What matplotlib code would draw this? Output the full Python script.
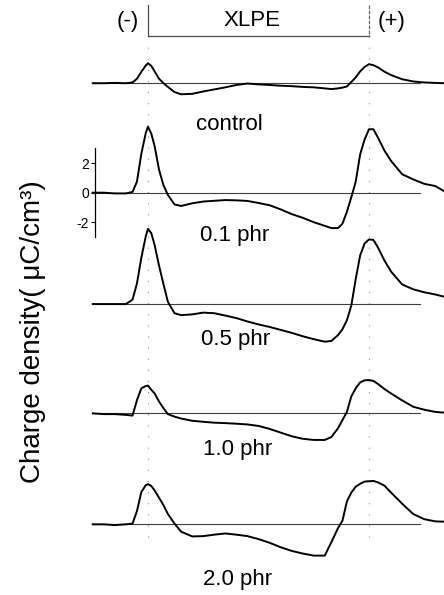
import matplotlib
matplotlib.use("Agg")
import matplotlib.pyplot as plt

plt.rcParams['font.family'] = ['Liberation Sans', 'DejaVu Sans']

# depth position, % of XLPE thickness (0 = cathode (-), 100 = anode (+))
position = [-25, -20, -15, -10, -7, -5, -3, -1, 0, 1.5, 3, 5, 7, 9, 12, 15, 20, 25,
            30, 35, 40, 45, 50, 55, 60, 65, 70, 75, 80, 83, 86, 88, 90, 92, 94, 96,
            98, 100, 102, 104, 107, 110, 115, 120, 125, 130, 134]

# charge density (uC/cm3)
control = [0, 0, 0.02, 0, 0.05, 0.3, 0.78, 1.2, 1.36, 1.17, 0.8, 0.3, 0.0, -0.25,
           -0.6, -0.75, -0.72, -0.56, -0.42, -0.28, -0.12, -0.02, -0.08, -0.12, -0.17,
           -0.2, -0.25, -0.28, -0.35, -0.4, -0.35, -0.3, -0.22, 0.08, 0.4, 0.8, 1.1,
           1.29, 1.22, 1.08, 0.78, 0.55, 0.27, 0.12, 0.05, 0.02, 0]
phr_01 = [0, 0, -0.05, -0.05, 0.05, 0.75, 2.65, 4.05, 4.47, 4.0, 3.15, 1.55, 0.5, -0.15,
          -0.8, -0.9, -0.72, -0.6, -0.55, -0.5, -0.52, -0.56, -0.7, -0.85, -1.13,
          -1.45, -1.7, -2.0, -2.25, -2.4, -2.4, -2.1, -1.3, -0.3, 0.75, 2.6, 3.6,
          4.3, 4.3, 3.75, 2.85, 2.15, 1.25, 0.9, 0.6, 0.45, 0.1]
phr_05 = [0, 0, 0, 0, 0.3, 1.4, 3.15, 4.6, 5.1, 4.8, 4.0, 2.6, 1.35, 0.15, -0.62,
          -0.75, -0.7, -0.58, -0.62, -0.78, -0.95, -1.18, -1.38, -1.55, -1.75, -1.95,
          -2.18, -2.38, -2.55, -2.5, -2.1, -1.7, -1.1, -0.1, 1.7, 3.3, 4.1, 4.38,
          4.35, 3.85, 2.95, 2.2, 1.33, 1.0, 0.8, 0.65, 0.5]
phr_10 = [0, -0.05, -0.05, -0.1, -0.15, 0.9, 1.7, 1.85, 1.88, 1.6, 1.35, 0.8, 0.35,
          -0.05, -0.22, -0.35, -0.5, -0.57, -0.63, -0.66, -0.7, -0.75, -0.85, -1.05,
          -1.3, -1.55, -1.72, -1.8, -1.8, -1.6, -1.0, -0.45, 0.1, 1.15, 1.7, 2.1,
          2.24, 2.26, 2.2, 2.0, 1.65, 1.35, 0.88, 0.45, 0.25, 0.1, 0.05]
phr_20 = [0, 0, -0.05, 0, 0.05, 0.9, 2.2, 2.65, 2.72, 2.6, 2.3, 1.8, 1.3, 0.7, 0.05,
          -0.5, -0.82, -0.8, -0.7, -0.62, -0.7, -0.8, -1.0, -1.25, -1.55, -1.8, -1.98,
          -2.12, -2.12, -1.2, -0.25, 0.25, 1.55, 2.15, 2.55, 2.75, 2.9, 2.92, 2.94,
          2.85, 2.62, 2.15, 1.4, 0.7, 0.35, 0.2, 0.18]

series = [control, phr_01, phr_05, phr_10, phr_20]
labels = ['control', '0.1 phr', '0.5 phr', '1.0 phr', '2.0 phr']
offsets = [7.42, 0.0, -7.55, -14.96, -22.48]
label_px = [(229, 124), (235, 236), (236, 340), (238, 450), (238, 580)]

W, H = 444, 595
fig = plt.figure(figsize=(W / 100, H / 100), dpi=100)
ax = fig.add_axes([0, 0, 1, 1])
ax.set_xlim(-66.97, 133.94)
ax.set_ylim(-27.27, 13.06)

for vals, off in zip(series, offsets):
    ax.plot([-25, 123], [off, off], color='0.25', lw=0.8, zorder=2)
    ax.plot(position, [v + off for v in vals], color='black', lw=1.4, zorder=3)

# electrode positions
for xe in (0, 100):
    ax.plot([xe, xe], [10.6, -24.0], color='0.55', lw=0.8,
            linestyle=(0, (1, 9)), zorder=1)
# XLPE bracket
ax.plot([0, 0, 100], [12.73, 10.62, 10.62], color='0.3', lw=0.9)
ax.plot([100, 100], [12.73, 10.62], color='0.4', lw=0.9, linestyle=(0, (3, 1)))

# y axis (scale bar on the 0.1 phr trace)
for s in ('top', 'right', 'bottom'):
    ax.spines[s].set_visible(False)
ax.spines['left'].set_position(('data', -23.98))
ax.spines['left'].set_bounds(-3, 3)
ax.spines['left'].set_linewidth(0.9)
ax.set_xticks([])
ax.set_yticks([-2, 0, 2])
ax.set_yticklabels(['-2', '0', '2'])
ax.tick_params(axis='y', direction='out', length=3, width=0.8, pad=1.5,
               labelsize=10)

def fx(px):
    return px / W

def fy(py):
    return 1 - py / H

for lab, (px, py) in zip(labels, label_px):
    fig.text(fx(px), fy(py), lab, ha='center', va='center', fontsize=16)

fig.text(fx(128), fy(21), '(-)', ha='center', va='center', fontsize=16)
fig.text(fx(252), fy(21), 'XLPE', ha='center', va='center', fontsize=16)
fig.text(fx(392), fy(21), '(+)', ha='center', va='center', fontsize=16)

fig.text(fx(33), fy(332), 'Charge density( \u03bcC/cm\u00b3)', rotation=90,
         ha='center', va='center', fontsize=20)

fig.savefig('out.png', dpi=100)
